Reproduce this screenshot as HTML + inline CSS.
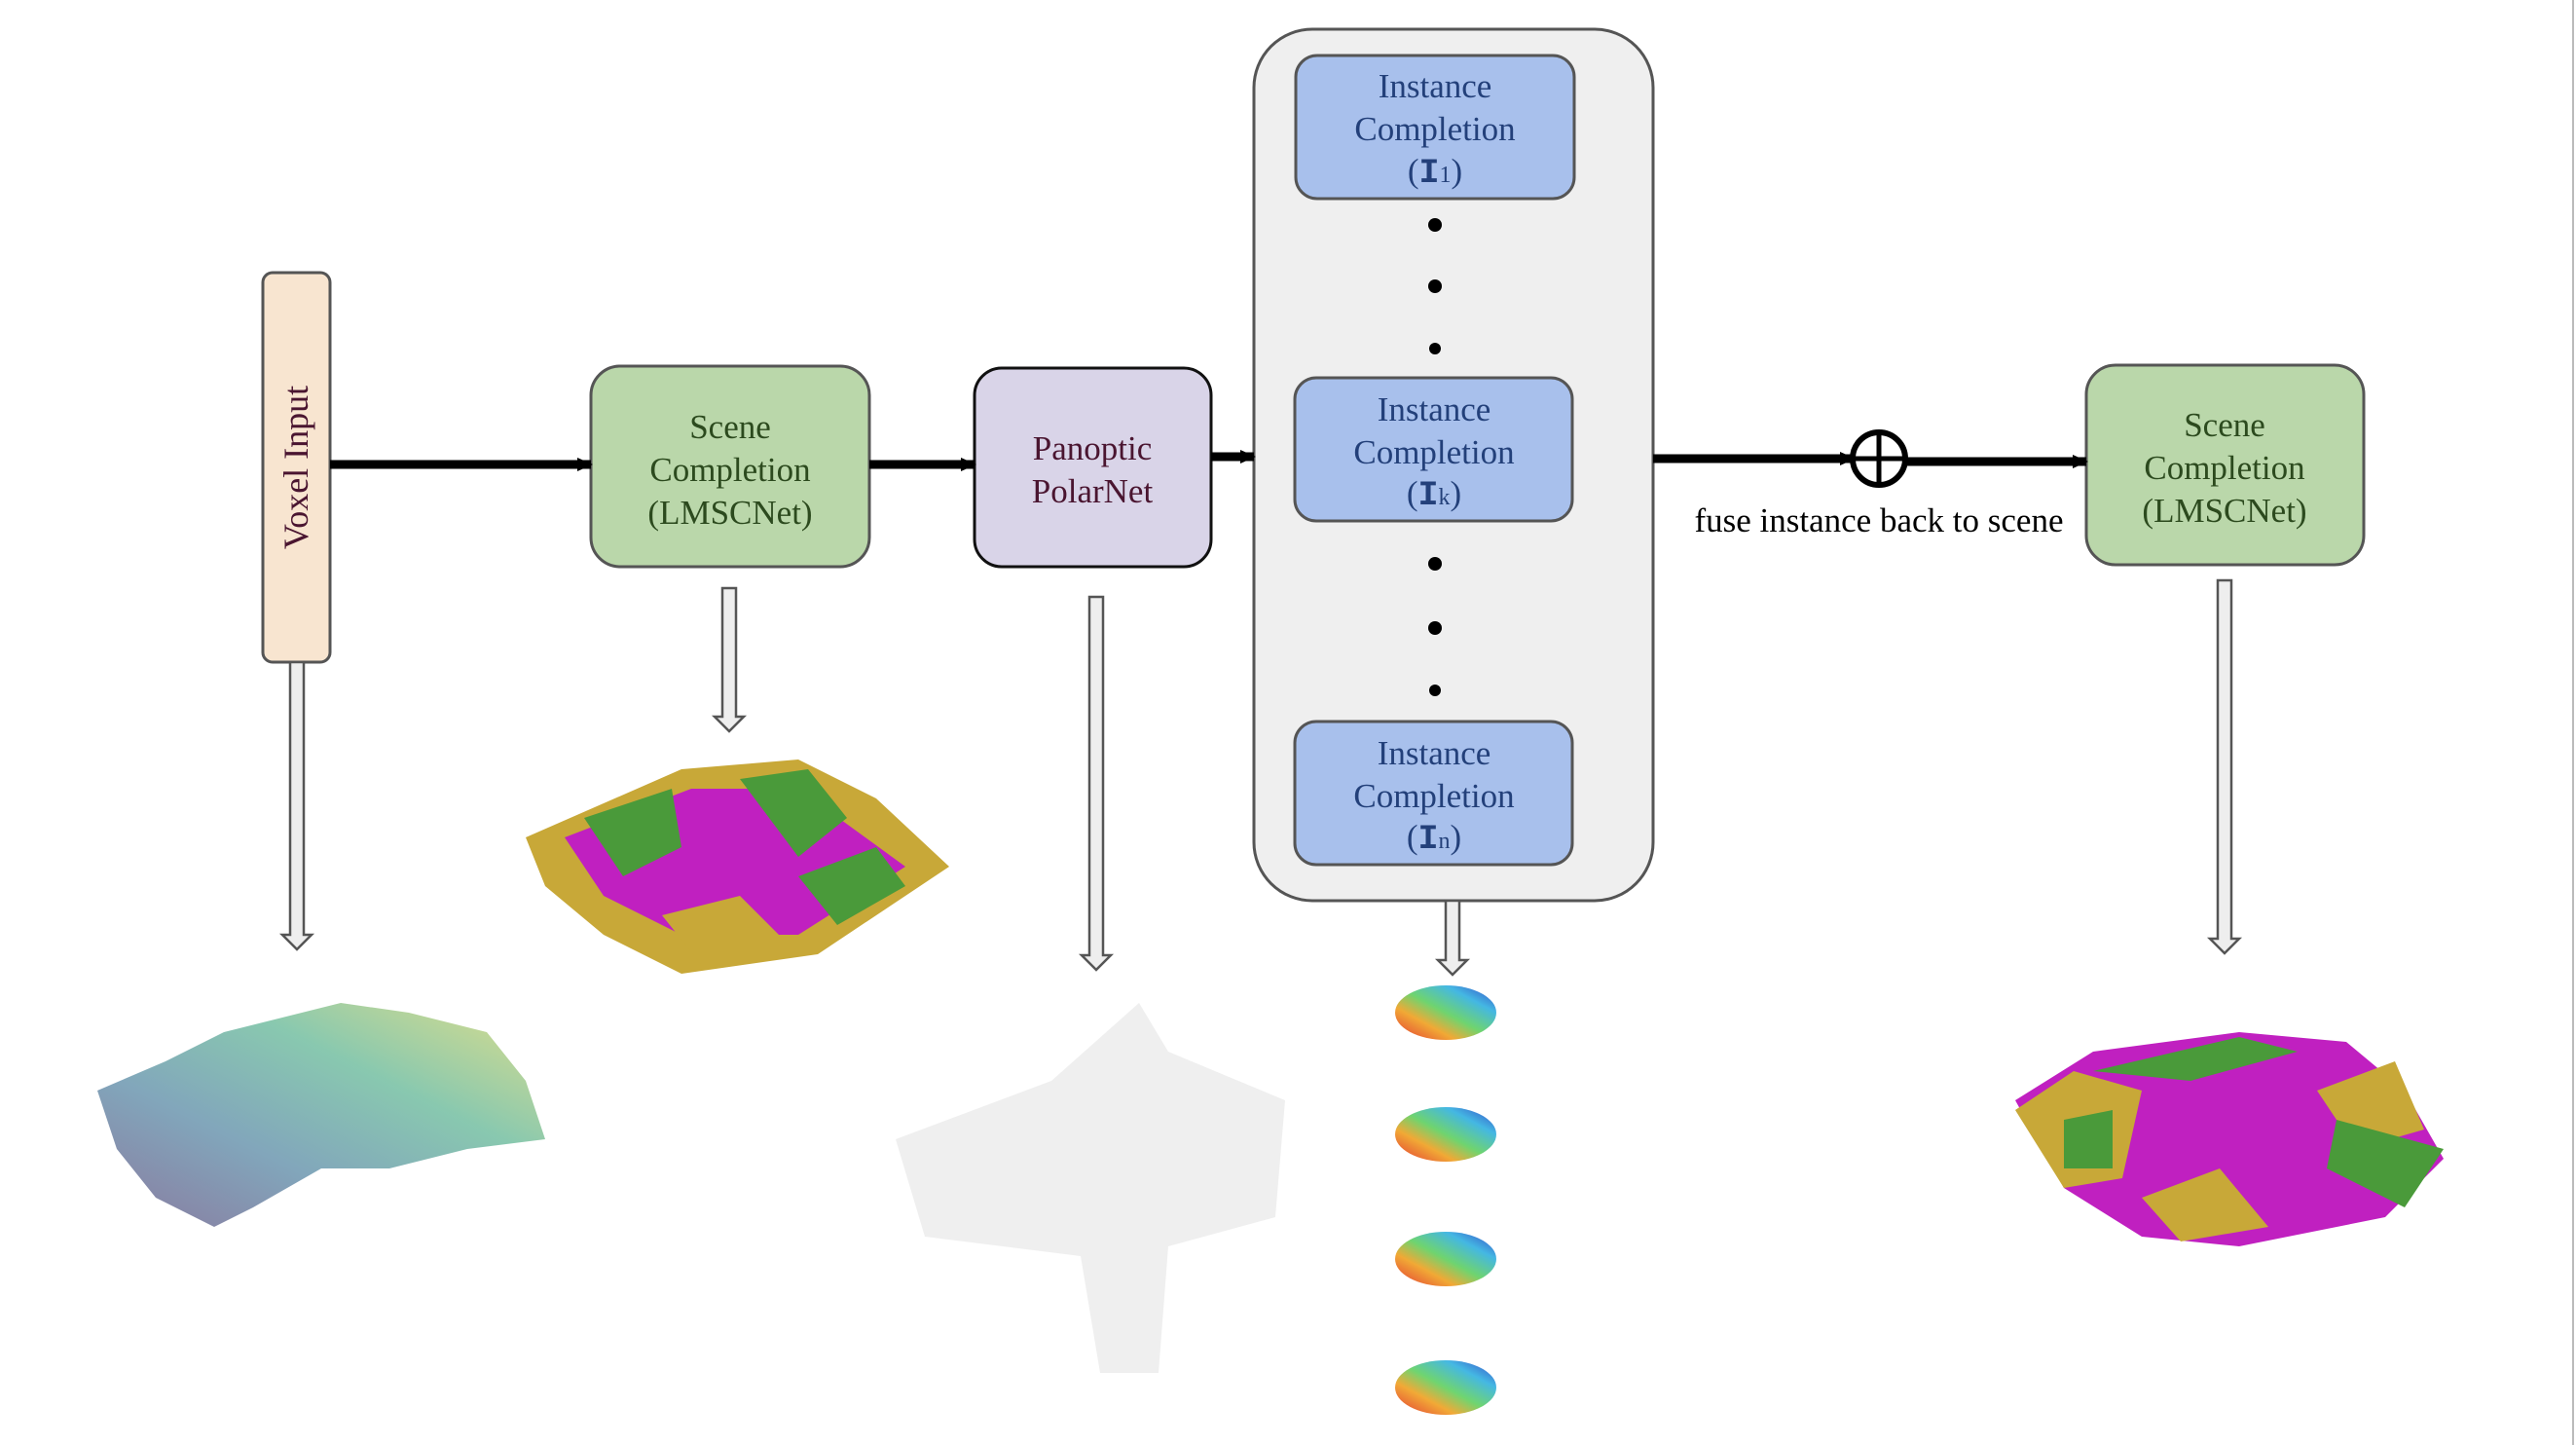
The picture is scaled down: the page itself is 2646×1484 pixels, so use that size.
<!DOCTYPE html>
<html><head><meta charset="utf-8"><style>
html,body{margin:0;padding:0;background:#fff;}
svg{display:block;}
text{font-family:"Liberation Serif",serif;}
</style></head><body>
<svg width="2646" height="1484" viewBox="0 0 2646 1484" xmlns="http://www.w3.org/2000/svg">
<defs>
<marker id="ah" markerWidth="16" markerHeight="16" refX="14" refY="8" orient="auto" markerUnits="userSpaceOnUse"><path d="M0,1 L16,8 L0,15 z" fill="#000"/></marker>
<linearGradient id="vg" x1="0" y1="1" x2="1" y2="0"><stop offset="0" stop-color="#3b1f5e"/><stop offset="0.35" stop-color="#2e6b8e"/><stop offset="0.65" stop-color="#3aa47a"/><stop offset="1" stop-color="#c9c83c"/></linearGradient>
<linearGradient id="rb" x1="0" y1="1" x2="1" y2="0"><stop offset="0" stop-color="#e02020"/><stop offset="0.3" stop-color="#f0a020"/><stop offset="0.5" stop-color="#60d060"/><stop offset="0.75" stop-color="#30b0e0"/><stop offset="1" stop-color="#2030c0"/></linearGradient>
</defs>
<line x1="2643" y1="0" x2="2643" y2="1484" stroke="#bbb" stroke-width="2"/>

<rect x="270" y="280" width="69" height="400" rx="10" fill="#f8e5d0" stroke="#555" stroke-width="3"/>
<text transform="translate(316,480) rotate(-90)" text-anchor="middle" font-size="36" fill="#4a1530">Voxel  Input</text>

<rect x="607" y="376" width="286" height="206" rx="30" fill="#bad7aa" stroke="#555" stroke-width="3"/>
<g font-size="35" fill="#2c4a1e" text-anchor="middle"><text x="750" y="450">Scene</text><text x="750" y="494">Completion</text><text x="750" y="538">(LMSCNet)</text></g>

<rect x="1001" y="378" width="243" height="204" rx="28" fill="#d9d4e8" stroke="#111" stroke-width="3"/>
<g font-size="35" fill="#4a1530" text-anchor="middle"><text x="1122" y="472">Panoptic</text><text x="1122" y="516">PolarNet</text></g>

<rect x="1288" y="30" width="410" height="895" rx="60" fill="#efefef" stroke="#555" stroke-width="3"/>
<g fill="#a8c0ec" stroke="#555" stroke-width="3">
<rect x="1331" y="57" width="286" height="147" rx="22"/>
<rect x="1330" y="388" width="285" height="147" rx="22"/>
<rect x="1330" y="741" width="285" height="147" rx="22"/>
</g>
<g font-size="35" fill="#23407a" text-anchor="middle">
<text x="1474" y="100">Instance</text><text x="1474" y="144">Completion</text><text x="1474" y="187">(<tspan font-family="Liberation Mono" font-weight="bold">I</tspan><tspan font-size="24">1</tspan>)</text>
<text x="1473" y="432">Instance</text><text x="1473" y="476">Completion</text><text x="1473" y="518">(<tspan font-family="Liberation Mono" font-weight="bold">I</tspan><tspan font-size="24">k</tspan>)</text>
<text x="1473" y="785">Instance</text><text x="1473" y="829">Completion</text><text x="1473" y="871">(<tspan font-family="Liberation Mono" font-weight="bold">I</tspan><tspan font-size="24">n</tspan>)</text>
</g>
<g fill="#000"><circle cx="1474" cy="231" r="7"/><circle cx="1474" cy="294" r="7"/><circle cx="1474" cy="358" r="6"/><circle cx="1474" cy="579" r="7"/><circle cx="1474" cy="645" r="7"/><circle cx="1474" cy="709" r="6"/></g>

<rect x="2143" y="375" width="285" height="205" rx="30" fill="#bad7aa" stroke="#555" stroke-width="3"/>
<g font-size="35" fill="#2c4a1e" text-anchor="middle"><text x="2285" y="448">Scene</text><text x="2285" y="492">Completion</text><text x="2285" y="536">(LMSCNet)</text></g>

<g stroke="#000" stroke-width="9" fill="none">
<line x1="339" y1="477" x2="607" y2="477" marker-end="url(#ah)"/>
<line x1="893" y1="477" x2="1001" y2="477" marker-end="url(#ah)"/>
<line x1="1244" y1="469" x2="1288" y2="469" marker-end="url(#ah)"/>
<line x1="1698" y1="471" x2="1904" y2="471" marker-end="url(#ah)"/>
<line x1="1957" y1="474" x2="2143" y2="474" marker-end="url(#ah)"/>
</g>
<circle cx="1930" cy="471" r="27" fill="#fff" stroke="#000" stroke-width="6"/>
<line x1="1930" y1="444" x2="1930" y2="498" stroke="#000" stroke-width="5"/>
<line x1="1903" y1="471" x2="1957" y2="471" stroke="#000" stroke-width="5"/>
<text x="1930" y="546" font-size="35" text-anchor="middle" fill="#000">fuse instance back to scene</text>

<g fill="#eee" stroke="#555" stroke-width="2.5">
<path d="M298,680 h14 v280 h8 l-15,15 l-15,-15 h8 z"/>
<path d="M742,604 h14 v132 h8 l-15,15 l-15,-15 h8 z"/>
<path d="M1119,613 h14 v368 h8 l-15,15 l-15,-15 h8 z"/>
<path d="M1485,925 h14 v61 h8 l-15,15 l-15,-15 h8 z"/>
<path d="M2278,596 h14 v368 h8 l-15,15 l-15,-15 h8 z"/>
</g>

<path d="M100,1120 L170,1090 L230,1060 L270,1050 L350,1030 L420,1040 L500,1060 L540,1110 L560,1170 L480,1180 L400,1200 L330,1200 L260,1240 L220,1260 L160,1230 L120,1180 Z" fill="url(#vg)" opacity="0.6"/>

<path d="M540,860 L700,790 L820,780 L900,820 L975,890 L840,980 L700,1000 L620,960 L560,910 Z" fill="#c8a838"/>
<path d="M580,860 L710,810 L820,810 L930,890 L820,960 L700,960 L620,920 Z" fill="#c020c0"/>
<path d="M600,840 L690,810 L700,870 L640,900 Z M760,800 L830,790 L870,840 L820,880 Z M820,900 L900,870 L930,910 L860,950 Z" fill="#4a9a3a"/>
<path d="M680,940 L760,920 L800,960 L720,990 Z" fill="#c8a838"/>

<path d="M920,1170 L1080,1110 L1170,1030 L1200,1080 L1320,1130 L1310,1250 L1200,1280 L1190,1410 L1130,1410 L1110,1290 L950,1270 Z" fill="#d8d8d8" opacity="0.4"/>

<g fill="url(#rb)" opacity="0.9">
<ellipse cx="1485" cy="1040" rx="52" ry="28"/>
<ellipse cx="1485" cy="1165" rx="52" ry="28"/>
<ellipse cx="1485" cy="1293" rx="52" ry="28"/>
<ellipse cx="1485" cy="1425" rx="52" ry="28"/>
</g>

<path d="M2070,1130 L2150,1080 L2300,1060 L2410,1070 L2470,1120 L2510,1190 L2450,1250 L2300,1280 L2200,1270 L2120,1220 Z" fill="#c020c0"/>
<path d="M2070,1140 L2130,1100 L2200,1120 L2180,1210 L2120,1220 Z M2380,1120 L2460,1090 L2490,1160 L2420,1180 Z" fill="#c8a838"/>
<path d="M2150,1100 L2300,1065 L2360,1080 L2250,1110 Z M2400,1150 L2510,1180 L2470,1240 L2390,1200 Z M2120,1150 L2170,1140 L2170,1200 L2120,1200 Z" fill="#4a9a3a"/>
<path d="M2200,1230 L2280,1200 L2330,1260 L2240,1275 Z" fill="#c8a838"/>
</svg>
</body></html>
